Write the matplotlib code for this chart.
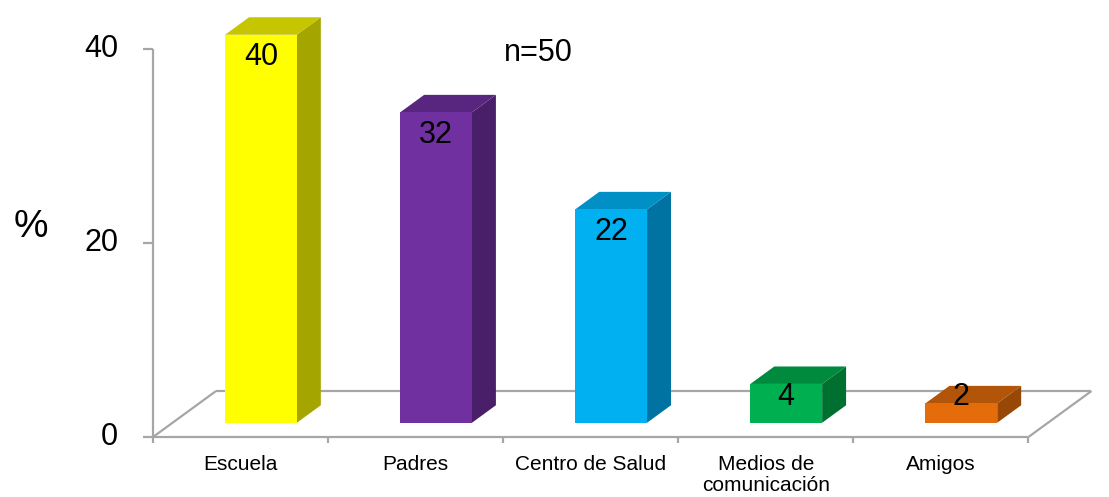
import matplotlib
matplotlib.use("Agg")
import matplotlib.pyplot as plt
from matplotlib.patches import Polygon

categories = ["Escuela", "Padres", "Centro de Salud",
              "Medios de\ncomunicación", "Amigos"]
values = [40, 32, 22, 4, 2]
y_ticks = [0, 20, 40]
note = "n=50"

front_colors = ["#FFFF00", "#7030A0", "#00B0F0", "#00B050", "#E46C0A"]
top_colors = ["#C6C600", "#59267F", "#0090C6", "#008A3E", "#B35508"]
side_colors = ["#A5A500", "#4A1F69", "#0073A2", "#007030", "#974706"]

GRID = "#A6A6A6"
FONT = ["Liberation Sans", "DejaVu Sans"]

# depth of the floor (in data units) and position of bars inside it
DEPTH_X = 0.36
DEPTH_Y = 4.74
BAR_FRONT = 0.31
BAR_BACK = 0.69
BAR_WIDTH = 0.41


def draw_floor(ax, n):
    """
    Draw the axis walls and the floor outline of the 3D chart.
    """
    kw = dict(color=GRID, lw=1.6, zorder=1, solid_capstyle="butt")
    ax.plot([0, 0], [0, y_ticks[-1]], **kw)
    ax.plot([0, n], [0, 0], **kw)
    ax.plot([0, DEPTH_X], [0, DEPTH_Y], **kw)
    ax.plot([n, n + DEPTH_X], [0, DEPTH_Y], **kw)
    ax.plot([DEPTH_X, n + DEPTH_X], [DEPTH_Y, DEPTH_Y], **kw)
    for t in y_ticks:
        ax.plot([-0.057, 0], [t, t], **kw)
        ax.text(-0.2, t, str(t), ha="right", va="center",
                fontsize=22, family=FONT)
    for i in range(n + 1):
        ax.plot([i, i], [0, -0.65], **kw)


def draw_bar(ax, i, v):
    """
    Draw one 3D bar as front, side and top faces.
    """
    fx = BAR_FRONT * DEPTH_X
    fy = BAR_FRONT * DEPTH_Y
    bx = BAR_BACK * DEPTH_X
    by = BAR_BACK * DEPTH_Y
    center = i + 0.5 + fx + 0.005
    x0 = center - BAR_WIDTH / 2
    x1 = center + BAR_WIDTH / 2
    ddx = bx - fx
    ddy = by - fy

    front = [(x0, fy), (x1, fy), (x1, fy + v), (x0, fy + v)]
    side = [(x1, fy), (x1 + ddx, fy + ddy), (x1 + ddx, fy + ddy + v),
            (x1, fy + v)]
    top = [(x0, fy + v), (x1, fy + v), (x1 + ddx, fy + ddy + v),
           (x0 + ddx, fy + ddy + v)]
    ax.add_patch(Polygon(side, closed=True, fc=side_colors[i],
                         ec="none", zorder=3))
    ax.add_patch(Polygon(top, closed=True, fc=top_colors[i],
                         ec="none", zorder=3))
    ax.add_patch(Polygon(front, closed=True, fc=front_colors[i],
                         ec="none", zorder=4))

    label_y = fy + max(v - 2.3, 2.7)
    ax.text(center, label_y, str(v), ha="center", va="center",
            fontsize=22, family=FONT, zorder=5)


def main():
    fig = plt.figure(figsize=(11.09, 4.97), dpi=100)
    ax = fig.add_axes([0, 0, 1, 1])
    ax.set_xlim(-0.874, 5.460)
    ax.set_ylim(-6.186, 45.05)
    ax.axis("off")

    n = len(categories)
    draw_floor(ax, n)
    for i, v in enumerate(values):
        draw_bar(ax, i, v)

    for i, name in enumerate(categories):
        ax.text(i + 0.5, -1.9, name, ha="center", va="top",
                fontsize=15, family=FONT, linespacing=1.1)

    ax.text(-0.7, 21.6, "%", ha="center", va="center",
            fontsize=28, family=FONT)
    ax.text(2.2, 39.6, note, ha="center", va="center",
            fontsize=22, family=FONT)

    fig.savefig("out.png", dpi=100)
    plt.close(fig)


if __name__ == "__main__":
    main()
